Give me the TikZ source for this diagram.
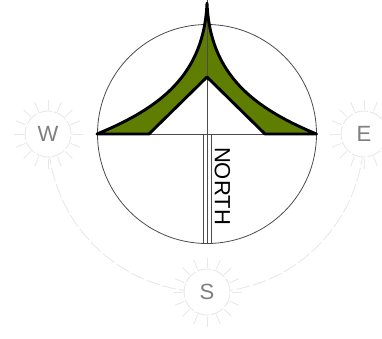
\documentclass[tikz,border=0pt]{standalone}
\usepackage{fontspec}
\setmainfont{Liberation Sans}
\usetikzlibrary{backgrounds}
\definecolor{pale}{HTML}{E8E8E8}
\definecolor{letter}{HTML}{7F7F7F}
\definecolor{olive}{HTML}{5F7D00}
\tikzset{
  thin line/.style={draw=black!70,line width=0.8pt},
  heavy line/.style={draw=black,line width=2.9pt,line join=round},
  point/.style={circle,draw=pale,line width=0.9pt,dash pattern=on 14pt off 2pt,fill=white,minimum size=46pt,inner sep=0pt,text=letter,font=\fontsize{22}{22}\selectfont},
  ray/.style={draw=pale,line width=0.9pt},
  track/.style={draw=pale,line width=0.9pt,dash pattern=on 14pt off 3pt}
}
\newcommand{\rays}[1]{\foreach \a in {0,22.5,...,337.5}{\draw[ray] (#1)+(\a:24.5pt) -- +(\a:34.5pt);}}
\begin{document}
\begin{tikzpicture}[x=1pt,y=-1pt]
\useasboundingbox (0,0) rectangle (382,338);
\clip (0,0) rectangle (382,338);
\node[point] (W) at (48,134) {W};
\node[point] (E) at (364,134) {E};
\node[point] (S) at (207,292) {S};
\begin{pgfonlayer}{background}
\draw[track] (W.center) to[out=-90,in=180] (S.center);
\draw[track] (E.center) to[out=-90,in=0] (S.center);
\end{pgfonlayer}
\rays{W}\rays{E}\rays{S}
\node[circle,thin line,minimum size=219pt,inner sep=0pt] (dial) at (207,134) {};
\coordinate (top) at (207,0);
\coordinate (apex) at (207,3);
\coordinate (left) at (97,134);
\coordinate (right) at (316.5,134);
\coordinate (inner) at (207,77);
\coordinate (il) at (149,134);
\coordinate (ir) at (265,134);
\fill[olive] (left) .. controls (160,108) and (204,75) .. (apex) .. controls (210,75) and (254,108) .. (right) -- (ir) -- (inner) -- (il) -- cycle;
\draw[thin line] (left) -- (right);
\draw[thin line] (top) -- (207,243.5);
\draw[thin line] (203,134) -- (203,243.3);
\draw[thin line] (211,134) -- (211,243.3);
\draw[heavy line] (il) -- (left) .. controls (160,108) and (204,75) .. (apex) .. controls (210,75) and (254,108) .. (right) -- (ir) -- (inner) -- cycle;
\node[rotate=-90,anchor=center,font=\fontsize{22}{22}\selectfont] (north) at (222.5,186) {NORTH};
\end{tikzpicture}
\end{document}
